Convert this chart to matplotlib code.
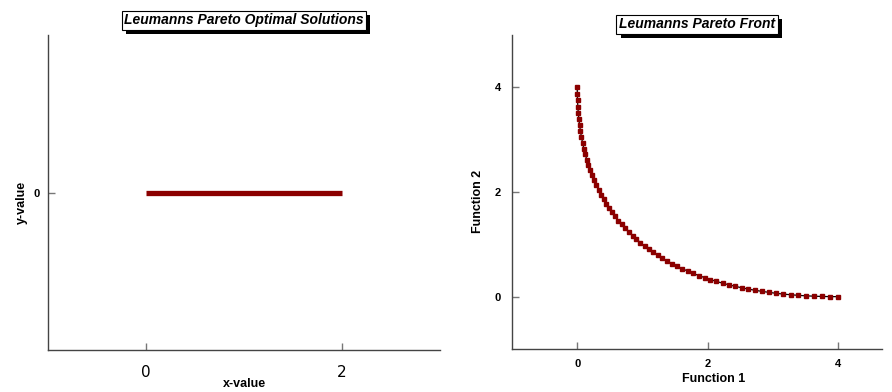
import matplotlib
matplotlib.use("Agg")
import matplotlib.pyplot as plt
import matplotlib.patheffects as pe

# Pareto optimal solutions (decision space)
sol_x = [0.0, 2.0]
sol_y = [0.0, 0.0]

# Pareto front (objective space)
f1 = [0.000, 0.001, 0.004, 0.009, 0.016, 0.025, 0.036, 0.049, 0.064, 0.082,
      0.101, 0.122, 0.145, 0.170, 0.198, 0.227, 0.258, 0.291, 0.327, 0.364,
      0.403, 0.444, 0.488, 0.533, 0.580, 0.630, 0.681, 0.735, 0.790, 0.848,
      0.907, 0.968, 1.032, 1.098, 1.165, 1.235, 1.306, 1.380, 1.455, 1.533,
      1.612, 1.694, 1.778, 1.863, 1.951, 2.041, 2.133, 2.226, 2.322, 2.420,
      2.520, 2.621, 2.725, 2.831, 2.939, 3.049, 3.160, 3.274, 3.390, 3.508,
      3.628, 3.750, 3.874, 4.000]
f2 = [4.000, 3.874, 3.750, 3.628, 3.508, 3.390, 3.274, 3.160, 3.049, 2.939,
      2.831, 2.725, 2.621, 2.520, 2.420, 2.322, 2.226, 2.133, 2.041, 1.951,
      1.863, 1.778, 1.694, 1.612, 1.533, 1.455, 1.380, 1.306, 1.235, 1.165,
      1.098, 1.032, 0.968, 0.907, 0.848, 0.790, 0.735, 0.681, 0.630, 0.580,
      0.533, 0.488, 0.444, 0.403, 0.364, 0.327, 0.291, 0.258, 0.227, 0.198,
      0.170, 0.145, 0.122, 0.101, 0.082, 0.064, 0.049, 0.036, 0.025, 0.016,
      0.009, 0.004, 0.001, 0.000]

left_xticks = [0, 2]
left_yticks = [0]
right_ticks = [0, 2, 4]

DARKRED = "#8b0000"
SPINE = "#444444"
W, H = 892, 392

fig = plt.figure(figsize=(W / 100, H / 100), dpi=100)


def px_axes(x0, y0, x1, y1):
    return fig.add_axes([x0 / W, 1 - y1 / H, (x1 - x0) / W, (y1 - y0) / H])


def style(ax):
    for s in ("top", "right"):
        ax.spines[s].set_visible(False)
    for s in ("left", "bottom"):
        ax.spines[s].set_color(SPINE)
        ax.spines[s].set_linewidth(1.0)
    ax.tick_params(direction="in", length=5, color="#777777", width=1)


def boxed_title(ax, text, y):
    t = ax.text(0.5, y, text, transform=ax.transAxes, ha="center", va="center",
                fontsize=10, fontstyle="italic", fontweight="bold",
                family="Liberation Sans",
                bbox=dict(boxstyle="square,pad=0.18", fc="white", ec="black", lw=0.8))
    t.get_bbox_patch().set_path_effects(
        [pe.SimplePatchShadow(offset=(3, -3), shadow_rgbFace="black", alpha=1.0),
         pe.Normal()])
    return t


# Left panel: solutions
ax1 = px_axes(48, 35, 440, 350)
style(ax1)
ax1.plot(sol_x, sol_y, color=DARKRED, lw=3.8, solid_capstyle="butt")
ax1.set_xlim(-1, 3)
ax1.set_ylim(-1, 1)
ax1.set_xticks(left_xticks)
ax1.set_yticks(left_yticks)
ax1.tick_params(axis="x", labelsize=11, pad=11)
for lab in ax1.get_yticklabels():
    lab.set_fontsize(8)
    lab.set_fontweight("bold")
    lab.set_family("Liberation Sans")
ax1.tick_params(axis="y", pad=6)
ax1.set_xlabel("x-value", fontsize=9, fontweight="bold", family="Liberation Sans")
ax1.xaxis.set_label_coords(0.5, -0.09)
ax1.set_ylabel("y-value", fontsize=9, fontweight="bold", family="Liberation Sans")
ax1.yaxis.set_label_coords(-0.05, 0.47)
boxed_title(ax1, "Leumanns Pareto Optimal Solutions", 1.047)

# Right panel: front
ax2 = px_axes(512, 35, 882, 349)
style(ax2)
ax2.plot(f1, f2, color="black", lw=0.9, zorder=2)
ax2.plot(f1, f2, ls="none", marker="s", ms=3.0, color=DARKRED,
         markeredgecolor=DARKRED, zorder=3)
ax2.set_xlim(-1, 4.67)
ax2.set_ylim(-1, 5)
ax2.set_xticks(right_ticks)
ax2.set_yticks(right_ticks)
for lab in ax2.get_xticklabels() + ax2.get_yticklabels():
    lab.set_fontsize(8)
    lab.set_fontweight("bold")
    lab.set_family("Liberation Sans")
ax2.tick_params(axis="x", pad=7)
ax2.tick_params(axis="y", pad=8)
ax2.set_xlabel("Function 1", fontsize=9, fontweight="bold", family="Liberation Sans")
ax2.xaxis.set_label_coords(0.545, -0.078)
ax2.set_ylabel("Function 2", fontsize=9, fontweight="bold", family="Liberation Sans")
ax2.yaxis.set_label_coords(-0.075, 0.47)
boxed_title(ax2, "Leumanns Pareto Front", 1.035)

fig.savefig("out.png", dpi=100)
